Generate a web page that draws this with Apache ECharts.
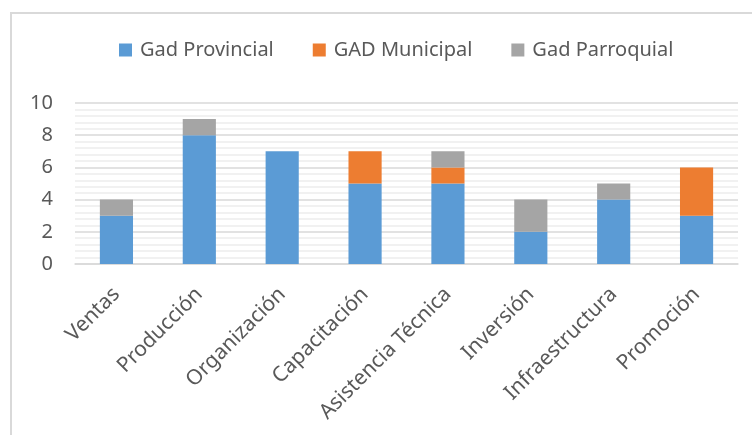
<!DOCTYPE html>
<html>
<head>
<meta charset="utf-8">
<script src="https://cdn.jsdelivr.net/npm/echarts@6/dist/echarts.min.js"></script>
<style>
  html, body { margin: 0; padding: 0; background: #fff; }
  #chart { width: 753px; height: 435px; }
</style>
</head>
<body>
<div id="chart"></div>
<script>
// categorías y valores por serie
const categories = ['Ventas', 'Producción', 'Organización', 'Capacitación', 'Asistencia Técnica', 'Inversión', 'Infraestructura', 'Promoción']
const provincial = [3, 8, 7, 5, 5, 2, 4, 3]
const municipal = [0, 0, 0, 2, 1, 0, 0, 3]
const parroquial = [1, 1, 0, 0, 1, 2, 1, 0]
const yTicks = [0, 2, 4, 6, 8, 10]

const chart = echarts.init(document.getElementById('chart'))
const font = 'Noto Sans'

const barSeries = (name, data, color) => ({
  name,
  type: 'bar',
  stack: 'total',
  barWidth: '40%',
  data,
  itemStyle: {color},
  emphasis: {disabled: true}
})

chart.setOption({
  animation: false,
  textStyle: {fontFamily: font},
  legend: {
    top: 35,
    left: 114,
    itemWidth: 13,
    itemHeight: 13,
    itemGap: 39,
    icon: 'rect',
    textStyle: {fontSize: 20, color: '#595959', fontFamily: font, padding: [0, 0, 0, 3]}
  },
  grid: {left: 75, right: 15, top: 103, bottom: 171},
  xAxis: {
    type: 'category',
    data: categories,
    axisLine: {lineStyle: {color: '#D9D9D9', width: 1.5}},
    axisTick: {show: false},
    axisLabel: {rotate: 45, fontSize: 21, color: '#595959', margin: 27, interval: 0}
  },
  yAxis: {
    type: 'value',
    min: yTicks[0],
    max: yTicks[yTicks.length - 1],
    interval: 2,
    axisLine: {show: false},
    axisTick: {show: false},
    axisLabel: {fontSize: 20, color: '#595959', margin: 22},
    splitLine: {lineStyle: {color: '#D9D9D9', width: 1.5}},
    minorTick: {show: false, splitNumber: 5},
    minorSplitLine: {show: true, lineStyle: {color: '#EDEDED', width: 1.5}}
  },
  graphic: [
    {type: 'polyline', shape: {points: [[11, 435], [11, 13], [752, 13]]}, style: {stroke: '#D9D9D9', lineWidth: 2, fill: null}, silent: true}
  ],
  series: [
    barSeries('Gad Provincial', provincial, '#5B9BD5'),
    barSeries('GAD Municipal', municipal, '#ED7D31'),
    barSeries('Gad Parroquial', parroquial, '#A5A5A5')
  ]
})
</script>
</body>
</html>
